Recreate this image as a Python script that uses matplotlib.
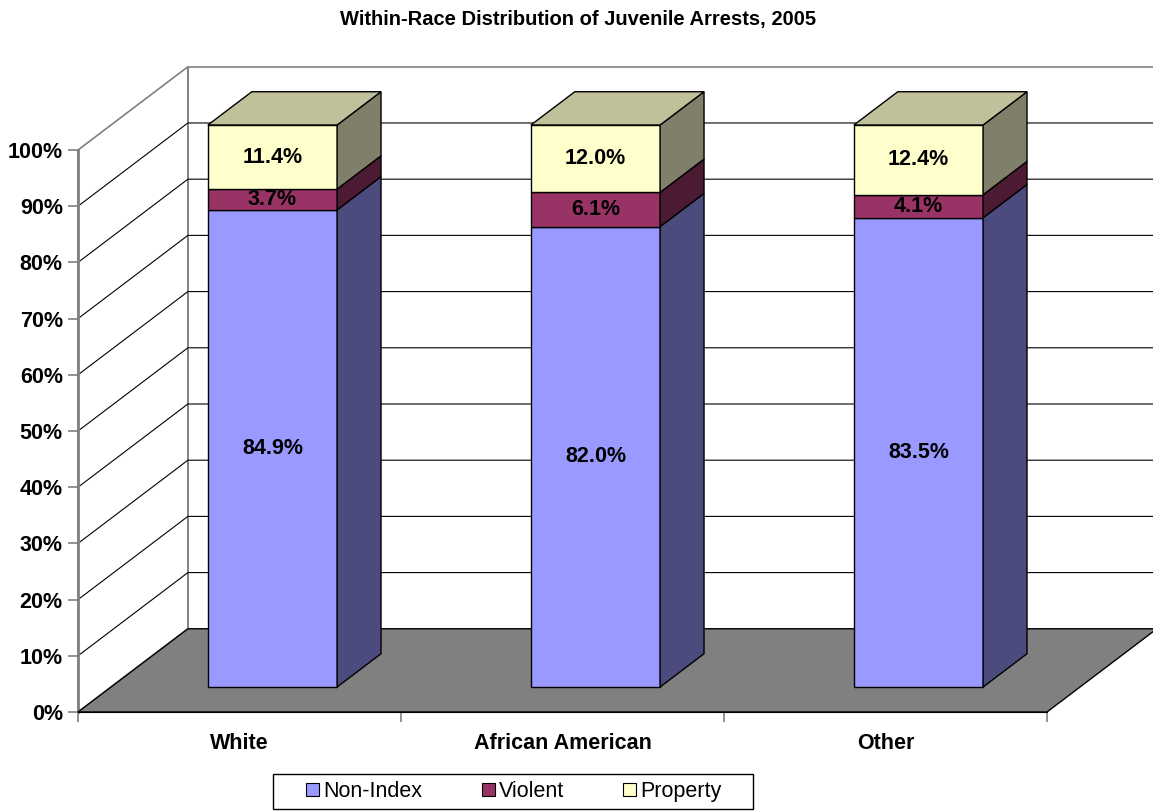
import numpy as np
import matplotlib
matplotlib.use('Agg')
import matplotlib.pyplot as plt
from matplotlib.patches import Polygon, Patch, Rectangle

plt.rcParams['font.family'] = ['Liberation Sans', 'DejaVu Sans']

# Within-race shares (%).
categories = ['White', 'African American', 'Other']
series = ['Non-Index', 'Violent', 'Property']
non_index = [84.9, 82.0, 83.5]
violent = [3.7, 6.1, 4.1]
property_ = [11.4, 12.0, 12.4]

front_colors = ['#9999FF', '#993366', '#FFFFCC']
side_colors = ['#4B4B7D', '#4D1A33', '#80806A']
top_color = '#C0C09A'

# Oblique "3-D" look: depth offset in data units (categories, percent).
DX, DY = 0.34, 14.8
D0, D1 = 0.30, 0.70
HALF = 0.2
FS = 15.5

fig = plt.figure(figsize=(11.53, 8.11), dpi=100)
ax = fig.add_axes([0.0677, 0.1221, 0.8404, 0.6930])
ax.set_xlim(0, 3)
ax.set_ylim(0, 100)
n_cat = len(categories)


def P(x, y, d):
    return (x + d * DX, y + d * DY)


def poly(pts, **kw):
    ax.add_patch(Polygon(pts, closed=True, clip_on=False, **kw))


# Walls and floor.
poly([P(0, 0, 1), P(n_cat, 0, 1), P(n_cat, 100, 1), P(0, 100, 1)],
     facecolor='white', edgecolor='#808080', lw=1.2, zorder=1)
poly([P(0, 0, 0), P(0, 100, 0), P(0, 100, 1), P(0, 0, 1)],
     facecolor='white', edgecolor='#808080', lw=1.2, zorder=1)
for v in range(10, 100, 10):
    xs, ys = zip(P(0, v, 0), P(0, v, 1), P(n_cat, v, 1))
    ax.plot(xs, ys, color='black', lw=0.8, clip_on=False, zorder=2)
poly([P(0, 0, 0), P(n_cat, 0, 0), P(n_cat, 0, 1), P(0, 0, 1)],
     facecolor='#808080', edgecolor='black', lw=1, zorder=3)

# Stacked bars (100% stacked, normalized like the original).
vals = np.array([non_index, violent, property_], dtype=float)
share = vals / vals.sum(axis=0) * 100
tops = np.cumsum(share, axis=0)
bottoms = tops - share
for i in range(n_cat):
    cx = i + 0.5
    x0, x1 = cx - HALF, cx + HALF
    for s in range(len(series)):
        b, t = bottoms[s, i], tops[s, i]
        poly([P(x0, b, D0), P(x1, b, D0), P(x1, t, D0), P(x0, t, D0)],
             facecolor=front_colors[s], edgecolor='black', lw=1, zorder=5)
        poly([P(x1, b, D0), P(x1, b, D1), P(x1, t, D1), P(x1, t, D0)],
             facecolor=side_colors[s], edgecolor='black', lw=1, zorder=5)
        lx, ly = P(cx, (b + t) / 2, D0)
        ax.text(lx, ly, f'{vals[s, i]:.1f}%', ha='center', va='center',
                fontsize=FS, fontweight='bold', zorder=7)
    t = tops[-1, i]
    poly([P(x0, t, D0), P(x1, t, D0), P(x1, t, D1), P(x0, t, D1)],
         facecolor=top_color, edgecolor='black', lw=1, zorder=5)

# Axes styling.
for side in ('top', 'right'):
    ax.spines[side].set_visible(False)
ax.spines['left'].set_color('#808080')
ax.spines['left'].set_linewidth(2)
ax.spines['bottom'].set_color('black')
ax.spines['bottom'].set_zorder(4)
ax.set_yticks(range(0, 101, 10))
ax.set_yticklabels([f'{v}%' for v in range(0, 101, 10)], fontsize=FS, fontweight='bold')
ax.tick_params(axis='y', length=7, width=1.2, color='#808080', pad=4)
ax.set_xticks([i + 0.5 for i in range(n_cat)])
ax.set_xticklabels(categories, fontsize=FS, fontweight='bold')
ax.set_xticks(range(0, n_cat + 1), minor=True)
ax.tick_params(axis='x', which='major', length=0, pad=15)
ax.tick_params(axis='x', which='minor', length=7, width=1.2, color='#808080')

fig.text(0.501, 1 - 19 / 811, 'Within-Race Distribution of Juvenile Arrests, 2005',
         ha='center', va='center', fontsize=14.5, fontweight='bold')

# Legend with a wide, flat box like the original.
handles = [Patch(facecolor=c, edgecolor='black', lw=0.8) for c in front_colors]
fig.legend(handles, series, loc='center', bbox_to_anchor=(0.4458, 0.024), ncol=3,
           fontsize=FS, frameon=False, handlelength=0.6, handleheight=0.6,
           handletextpad=0.2, columnspacing=2.75, borderpad=0, borderaxespad=0)
fig.patches.append(Rectangle((273 / 1153, 2 / 811), 480 / 1153, 35 / 811,
                             transform=fig.transFigure, facecolor='none',
                             edgecolor='black', lw=1))

fig.savefig('out.png', dpi=100)
